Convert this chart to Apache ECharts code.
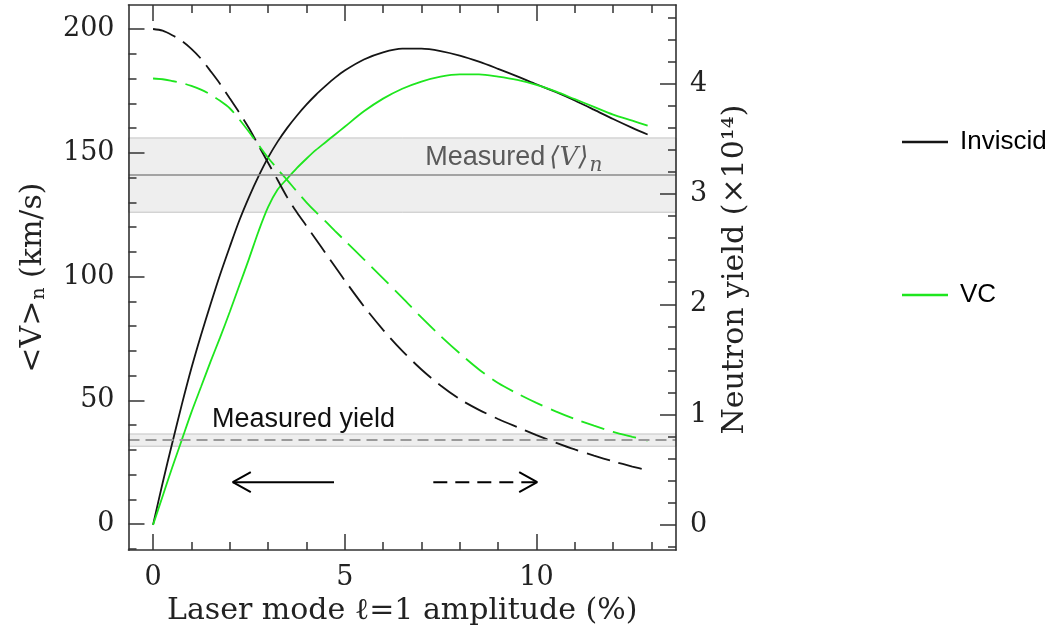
<!DOCTYPE html>
<html>
<head>
<meta charset="utf-8">
<script src="https://cdn.jsdelivr.net/npm/echarts@6/dist/echarts.min.js"></script>
<style>
  html, body { margin: 0; padding: 0; background: #fff; }
  #chart { width: 1053px; height: 631px; }
</style>
</head>
<body>
<div id="chart"></div>
<script>
// Laser mode l=1 amplitude (%)
const amplitude = [0, 0.25, 0.5, 0.75, 1, 1.25, 1.5, 1.75, 2, 2.25, 2.5, 2.75, 3, 3.25, 3.5, 3.75, 4, 4.25, 4.5, 4.75, 5,
                   5.5, 6, 6.5, 7, 7.5, 8, 8.5, 9, 9.5, 10, 10.5, 11, 11.5, 12, 12.5, 12.9];

// Neutron yield (x10^14), right axis
const inviscidYield = [0, 0.38, 0.74, 1.09, 1.42, 1.72, 2.0, 2.27, 2.52, 2.76, 2.97, 3.16, 3.33, 3.475, 3.60, 3.71, 3.81, 3.90, 3.98, 4.055, 4.12,
                       4.22, 4.285, 4.318, 4.318, 4.296, 4.255, 4.20, 4.135, 4.067, 3.995, 3.925, 3.848, 3.765, 3.68, 3.60, 3.54];
const vcYield = [0, 0.26, 0.52, 0.77, 1.02, 1.25, 1.48, 1.70, 1.93, 2.17, 2.41, 2.66, 2.88, 3.04, 3.14, 3.235, 3.32, 3.40, 3.47, 3.54, 3.61,
                 3.75, 3.865, 3.955, 4.02, 4.065, 4.085, 4.085, 4.065, 4.035, 3.99, 3.93, 3.86, 3.79, 3.72, 3.665, 3.62];

// <V>_n (km/s), left axis
const inviscidVelocity = [200, 199.3, 197.5, 195.2, 192, 188, 183, 177.8, 172, 166.2, 160, 153, 146, 139, 132, 126, 120.5, 115, 109.5, 104, 98.5,
                          88, 78.5, 70, 62.5, 56, 50.5, 46.2, 42.5, 39.2, 36, 33, 30.2, 27.7, 25.4, 23.3, 21.8];
const vcVelocity = [180, 179.7, 179, 178.2, 177, 175.5, 173.5, 171, 168, 163.5, 158.5, 153.2, 148, 143.4, 139, 134.4, 130, 126, 122.3, 118.4, 114.6,
                    107, 99.3, 91.5, 83.5, 76, 69, 62.5, 57, 52.8, 49, 45.6, 42.5, 39.8, 37.3, 35.3, 33.8];

// measured values: [low, central, high]
const measuredVelocity = [126, 141, 156];
const measuredYield = [0.713, 0.77, 0.824];

// direction arrows at the bottom of the plot: [tail x, tip x, level (km/s)]
const arrowLeft = [4.72, 2.08, 17];
const arrowRight = [7.31, 10.02, 17];

// ticks
const xMajorTicks = [0, 5, 10];
const xMinorTicks = [1, 2, 3, 4, 6, 7, 8, 9, 11, 12, 13];
const velocityTicks = [0, 50, 100, 150, 200];
const velocityMinorTicks = [-10, 10, 20, 30, 40, 60, 70, 80, 90, 110, 120, 130, 140, 160, 170, 180, 190];
const yieldTicks = [0, 1, 2, 3, 4];
const yieldMinorTicks = [-0.2, 0.2, 0.4, 0.6, 0.8, 1.2, 1.4, 1.6, 1.8, 2.2, 2.4, 2.6, 2.8, 3.2, 3.4, 3.6, 3.8, 4.2, 4.4, 4.6];

const X_RANGE = [-0.64, 13.64];
const V_RANGE = [-10.45, 209.69];
const Y_RANGE = [-0.229, 4.714];

const BLACK = '#151515';
const GREEN = '#1ee61e';
const FRAME = '#333333';
const SERIF = '"DejaVu Serif", serif';
const SANS = '"Liberation Sans", Arial, sans-serif';

const pairs = ys => amplitude.map((x, i) => [x, ys[i]]);

function axis(range, opts) {
  return Object.assign({
    type: 'value', min: range[0], max: range[1], z: 5,
    splitLine: { show: false },
    axisLine: { show: false, onZero: false, lineStyle: { color: FRAME, width: 1.6 } },
    axisLabel: { show: false },
  }, opts);
}
const frameLine = { show: true, onZero: false, lineStyle: { color: FRAME, width: 1.6 } };
const majorTick = values => ({ show: true, inside: true, length: 16, customValues: values, lineStyle: { color: FRAME, width: 1.5 } });
const minorTick = values => ({ show: true, inside: true, length: 8, customValues: values, lineStyle: { color: FRAME, width: 1.5 } });
const tickLabel = values => ({ show: true, customValues: values, margin: 14, fontFamily: SERIF, fontSize: 27, color: '#222' });

const titleStyle = { fontFamily: SERIF, fontSize: 30, color: '#222' };

function chevron(tail, tip, level) {
  const dir = tip > tail ? -1 : 1;
  return [[tip + dir * 0.47, level + 4.0], [tip, level], [tip + dir * 0.47, level - 4.0]];
}

const curve = (name, yAxisIndex, values, color, dashed) => ({
  name, type: 'line', xAxisIndex: 0, yAxisIndex, z: 3,
  data: pairs(values), showSymbol: false, symbol: 'none', smooth: 0.3,
  itemStyle: { color }, lineStyle: { color, width: 1.8, type: dashed ? [24, 9] : 'solid' }
});

const arrowPart = (data, dashed) => ({
  type: 'line', xAxisIndex: 0, yAxisIndex: 0, z: 3, silent: true, symbol: 'none', data,
  lineStyle: { color: '#000', width: 2, type: dashed ? [14, 8] : 'solid' }
});

const option = {
  animation: false,
  backgroundColor: '#fff',
  grid: { left: 128.5, right: 377, top: 5, bottom: 78.3, containLabel: false },
  legend: {
    orient: 'vertical', left: 897, top: 121,
    itemWidth: 46, itemHeight: 2.5, itemGap: 121, icon: 'rect',
    textStyle: { fontFamily: SANS, fontSize: 26, color: '#000', padding: [0, 0, 0, 7], lineHeight: 32 },
    data: ['Inviscid', 'VC'],
    selectedMode: false
  },
  xAxis: [
    axis(X_RANGE, {
      position: 'bottom', axisLine: frameLine,
      axisTick: majorTick(xMajorTicks), axisLabel: tickLabel(xMajorTicks),
      name: 'Laser mode \u2113=1 amplitude (%)', nameLocation: 'middle', nameGap: 44,
      nameTextStyle: titleStyle
    }),
    axis(X_RANGE, { position: 'bottom', axisTick: minorTick(xMinorTicks) }),
    axis(X_RANGE, { position: 'top', axisLine: frameLine, axisTick: majorTick(xMajorTicks) }),
    axis(X_RANGE, { position: 'top', axisTick: minorTick(xMinorTicks) })
  ],
  yAxis: [
    axis(V_RANGE, {
      position: 'left', axisLine: frameLine,
      axisTick: majorTick(velocityTicks), axisLabel: tickLabel(velocityTicks),
      name: '{a|<V>}{s|n}{a| (km/s)}', nameLocation: 'middle', nameRotate: 90, nameGap: 80,
      nameTextStyle: {
        rich: {
          a: { fontFamily: SERIF, fontSize: 30, color: '#222' },
          s: { fontFamily: SERIF, fontSize: 19, color: '#222', padding: [12, 0, 0, 1] }
        }
      }
    }),
    axis(V_RANGE, { position: 'left', axisTick: minorTick(velocityMinorTicks) }),
    axis(Y_RANGE, {
      position: 'right', axisLine: frameLine,
      axisTick: majorTick(yieldTicks), axisLabel: tickLabel(yieldTicks),
      name: 'Neutron yield (\u00d710\u00b9\u2074)', nameLocation: 'middle', nameRotate: 90, nameGap: 44,
      nameTextStyle: Object.assign({ padding: [0, 0, 0, 16] }, titleStyle)
    }),
    axis(Y_RANGE, { position: 'right', axisTick: minorTick(yieldMinorTicks) })
  ],
  series: [
    {
      // measured <V>_n band and central value
      type: 'line', data: [], xAxisIndex: 0, yAxisIndex: 0, z: 1, silent: true,
      markArea: {
        silent: true,
        itemStyle: { color: '#eeeeee', borderColor: '#c4c4c4', borderWidth: 1 },
        data: [[{ xAxis: X_RANGE[0], yAxis: measuredVelocity[0] }, { xAxis: X_RANGE[1], yAxis: measuredVelocity[2] }]]
      },
      markLine: {
        silent: true, symbol: 'none', label: { show: false },
        lineStyle: { color: '#8a8a8a', width: 1.6, type: 'solid' },
        data: [{ yAxis: measuredVelocity[1] }]
      }
    },
    {
      // measured yield band and central value
      type: 'line', data: [], xAxisIndex: 0, yAxisIndex: 2, z: 1, silent: true,
      markArea: {
        silent: true,
        itemStyle: { color: '#eeeeee', borderColor: '#c4c4c4', borderWidth: 1 },
        data: [[{ xAxis: X_RANGE[0], yAxis: measuredYield[0] }, { xAxis: X_RANGE[1], yAxis: measuredYield[2] }]]
      },
      markLine: {
        silent: true, symbol: 'none', label: { show: false },
        lineStyle: { color: '#9a9a9a', width: 2, type: [11, 6] },
        data: [{ yAxis: measuredYield[1] }]
      }
    },
    curve('Inviscid', 2, inviscidYield, BLACK, false),
    curve('VC', 2, vcYield, GREEN, false),
    curve('Inviscid', 0, inviscidVelocity, BLACK, true),
    curve('VC', 0, vcVelocity, GREEN, true),
    arrowPart([[arrowLeft[0], arrowLeft[2]], [arrowLeft[1], arrowLeft[2]]], false),
    arrowPart(chevron(arrowLeft[0], arrowLeft[1], arrowLeft[2]), false),
    arrowPart([[arrowRight[0], arrowRight[2]], [arrowRight[1], arrowRight[2]]], true),
    arrowPart(chevron(arrowRight[0], arrowRight[1], arrowRight[2]), false)
  ]
};

const chart = echarts.init(document.getElementById('chart'));
chart.setOption(option);

// annotation texts placed in data coordinates
const toPx = (x, v) => chart.convertToPixel({ seriesIndex: 4 }, [x, v]);
const ctx = document.createElement('canvas').getContext('2d');
const textWidth = (t, f) => { ctx.font = f; return ctx.measureText(t).width; };

const GREY_TEXT = '#5a5a5a';
const fMeasured = '27px ' + SANS;
const fBracket = 'italic 26px ' + SERIF;
const fSub = 'italic 20px ' + SERIF;

const vBase = toPx(7.1, 144);     // baseline start of "Measured <V>_n"
const yBase = toPx(1.535, 38.4);  // baseline start of "Measured yield"

const w1 = textWidth('Measured', fMeasured);
const w2 = textWidth('\u27e8V\u27e9', fBracket);

chart.setOption({
  graphic: [
    { type: 'text', x: vBase[0], y: vBase[1] - 9.7, z: 10, silent: true,
      style: { text: 'Measured', font: fMeasured, fill: GREY_TEXT, align: 'left', verticalAlign: 'middle' } },
    { type: 'text', x: vBase[0] + w1 + 4, y: vBase[1] - 9.4, z: 10, silent: true,
      style: { text: '\u27e8V\u27e9', font: fBracket, fill: GREY_TEXT, align: 'left', verticalAlign: 'middle' } },
    { type: 'text', x: vBase[0] + w1 + 4 + w2 + 1, y: vBase[1] - 2, z: 10, silent: true,
      style: { text: 'n', font: fSub, fill: GREY_TEXT, align: 'left', verticalAlign: 'middle' } },
    { type: 'text', x: yBase[0], y: yBase[1] - 9.7, z: 10, silent: true,
      style: { text: 'Measured yield', font: fMeasured, fill: '#111', align: 'left', verticalAlign: 'middle' } }
  ]
});
</script>
</body>
</html>
